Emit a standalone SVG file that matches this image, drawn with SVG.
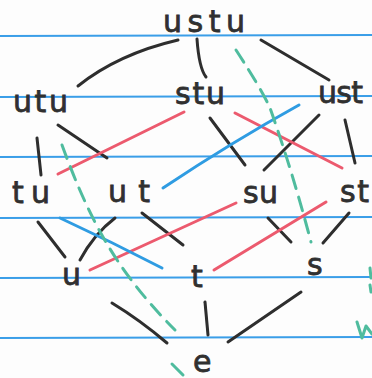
<svg xmlns="http://www.w3.org/2000/svg" width="372" height="378" viewBox="0 0 372 378">
<style>
.rule{stroke:#3a9ee8;stroke-width:2;fill:none}
.blk{stroke:#2e2e2e;stroke-width:3;fill:none;stroke-linecap:round}
.red{stroke:#ec5a6e;stroke-width:3;fill:none;stroke-linecap:round}
.blu{stroke:#2f9ce2;stroke-width:3;fill:none;stroke-linecap:round}
.grn{stroke:#4fbc9e;stroke-width:3;fill:none;stroke-linecap:round;stroke-dasharray:14 9}
.grs{stroke:#4fbc9e;stroke-width:3;fill:none;stroke-linecap:round;stroke-linejoin:round}
text{font-family:"DejaVu Sans","Liberation Sans",sans-serif;font-size:30px;fill:#303030;stroke:#303030;stroke-width:0.8}
</style>
<rect width="372" height="378" fill="#fdfdfd"/>
<g id="paper">
<line class="rule" x1="0" y1="36" x2="372" y2="35"/>
<line class="rule" x1="0" y1="97" x2="372" y2="96"/>
<line class="rule" x1="0" y1="157" x2="372" y2="156"/>
<line class="rule" x1="0" y1="218" x2="372" y2="217"/>
<line class="rule" x1="0" y1="278" x2="372" y2="277"/>
<line class="rule" x1="0" y1="338" x2="372" y2="337"/>
</g>
<g id="connectors">
<path class="blk" d="M78,86 Q118,54 178,40"/>
<path class="blk" d="M197,39 Q199,68 206,77"/>
<path class="blk" d="M261,40 L329,80"/>
<path class="blk" d="M37,138 L41,175"/>
<path class="blk" d="M58,125 L107,158"/>
<path class="blk" d="M210,118 L245,165"/>
<path class="blk" d="M319,115 L264,170"/>
<path class="blk" d="M345,120 L355,163"/>
<path class="blk" d="M38,222 L65,257"/>
<path class="blk" d="M115,218 Q94,234 80,260"/>
<path class="blk" d="M142,213 L183,245"/>
<path class="blk" d="M268,218 L291,242"/>
<path class="blk" d="M349,213 L323,243"/>
<path class="blk" d="M112,303 Q140,320 167,343"/>
<path class="blk" d="M205,302 L208,335"/>
<path class="blk" d="M301,292 L228,342"/>
<path class="red" d="M58,174 L184,112"/>
<path class="red" d="M235,113 L342,168"/>
<path class="red" d="M90,270 L236,203"/>
<path class="red" d="M214,270 L326,202"/>
<path class="blu" d="M163,188 Q232,142 299,105"/>
<path class="blu" d="M60,218 Q112,242 162,268"/>
<path class="grn" d="M62,145 Q82,200 103,237 Q130,285 175,330"/>
<path class="grs" d="M172,364 L176,368 L183,375"/>
<path class="grn" d="M236,50 Q262,90 270,108 Q292,170 311,242"/>
<path class="grs" d="M370,268 L371,278"/>
<path class="grs" d="M370,285 L371,292"/>
<path class="grs" d="M357,322 L362,338 L366,326 L372,334"/>
</g>
<g id="n-ustu"><text x="163" y="32" textLength="82" lengthAdjust="spacing">ustu</text></g>
<g id="n-utu"><text x="13" y="112" textLength="55" lengthAdjust="spacing">utu</text></g>
<g id="n-stu"><text x="175" y="104" textLength="50" lengthAdjust="spacing">stu</text></g>
<g id="n-ust"><text x="318" y="103" textLength="45" lengthAdjust="spacing">ust</text></g>
<g id="n-tu"><text x="12" y="203" textLength="38" lengthAdjust="spacing">tu</text></g>
<g id="n-ut"><text x="108" y="202" textLength="42" lengthAdjust="spacing">ut</text></g>
<g id="n-su"><text x="243" y="203" textLength="35" lengthAdjust="spacing">su</text></g>
<g id="n-st"><text x="340" y="202" textLength="29" lengthAdjust="spacing">st</text></g>
<g id="n-u"><text x="62" y="285">u</text></g>
<g id="n-t"><text x="191" y="287">t</text></g>
<g id="n-s"><text x="307" y="275">s</text></g>
<g id="n-e"><text x="193" y="372">e</text></g>
</svg>
